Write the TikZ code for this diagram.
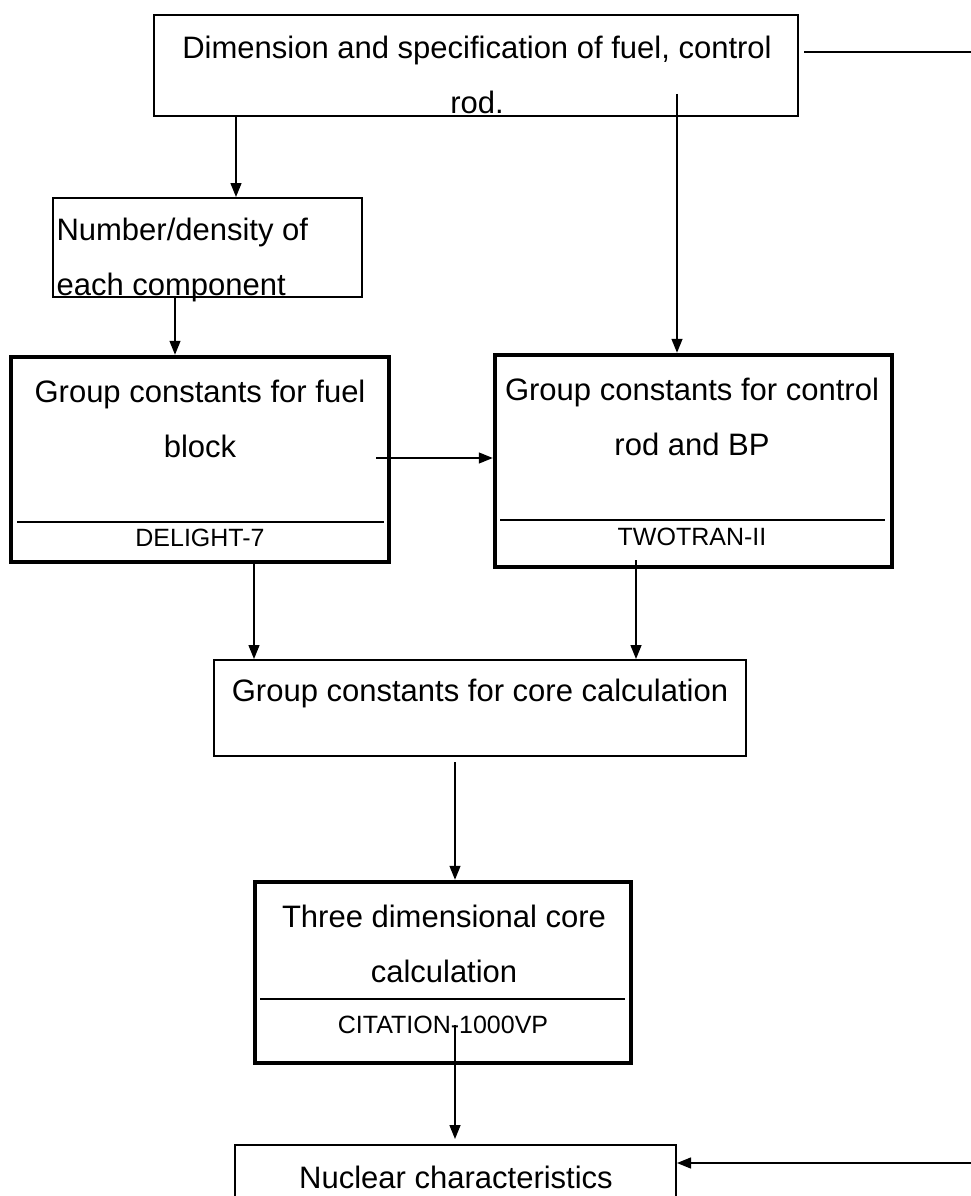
\documentclass[tikz,border=0pt]{standalone}
\usepackage{fontspec}
\setmainfont{Liberation Sans}
\usetikzlibrary{arrows.meta}
\begin{document}
\begin{tikzpicture}[x=1pt,y=-1pt,
        box/.style={draw,rectangle,line width=2pt,inner sep=0pt},
        heavybox/.style={box,line width=4.5pt},
        txt/.style={align=center,font=\fontsize{31}{55}\selectfont},
        code/.style={font=\fontsize{25}{30}\selectfont},
        arr/.style={line width=1.4pt,-{Triangle[length=14pt,width=11pt]}}]
        \useasboundingbox (0,0) rectangle (971,1196);
        \clip (0,0) rectangle (971,1196);
        % boxes
        \node[box,minimum width=644pt,minimum height=101pt] (dim) at (476,66) {};
        \node[box,minimum width=309pt,minimum height=99pt] (num) at (207,247.5) {};
        \node[heavybox,minimum width=378pt,minimum height=205pt] (fuel) at (200,459.5) {};
        \node[heavybox,minimum width=397pt,minimum height=212pt] (ctrl) at (693.5,461) {};
        \node[box,minimum width=532pt,minimum height=96pt] (core) at (480,708) {};
        \node[heavybox,minimum width=376pt,minimum height=181pt] (three) at (443,972.5) {};
        \node[box,minimum width=441pt,minimum height=100pt] (nuc) at (455.5,1195) {};
        % texts
        \node[txt] (dimtxt) at (477,75) {Dimension and specification of fuel, control\\rod.};
        \node[txt,align=left,anchor=west] (numtxt) at (53,260) {Number/density of\\each component};
        \node[txt] (fueltxt) at (200,419) {Group constants for fuel\\block};
        \node[code] (fuelcode) at (200,538) {DELIGHT-7};
        \node[txt] (ctrltxt) at (692,417) {Group constants for control\\rod and BP};
        \node[code] (ctrlcode) at (692,537) {TWOTRAN-II};
        \node[txt] (coretxt) at (480,693) {Group constants for core calculation};
        \node[txt] (threetxt) at (444,944) {Three dimensional core\\calculation};
        \node[code] (threecode) at (443,1025) {CITATION-1000VP};
        \node[txt] (nuctxt) at (456,1177) {Nuclear characteristics};
        % dividers
        \draw[line width=1.6pt] (17,522) -- (384,522);
        \draw[line width=1.6pt] (500,520) -- (885,520);
        \draw[line width=1.6pt] (260,999) -- (625,999);
        % connectors
        \draw[arr] (236,0 |- dim.south) -- (236,0 |- num.north);
        \draw[arr] (677,94) -- (677,0 |- ctrl.north);
        \draw[arr] (175,0 |- num.south) -- (175,0 |- fuel.north);
        \draw[arr] (376,458) -- (ctrl.west |- 0,458);
        \draw[arr] (254,0 |- fuel.south) -- (254,0 |- core.north);
        \draw[arr] (636,560) -- (636,0 |- core.north);
        \draw[arr] (455,762) -- (455,0 |- three.north);
        \draw[arr] (455,1025) -- (455,1139);
        \draw[line width=1.6pt] (804,52) -- (971,52);
        \draw[arr] (971,1163) -- (nuc.east |- 0,1163);
\end{tikzpicture}
\end{document}
